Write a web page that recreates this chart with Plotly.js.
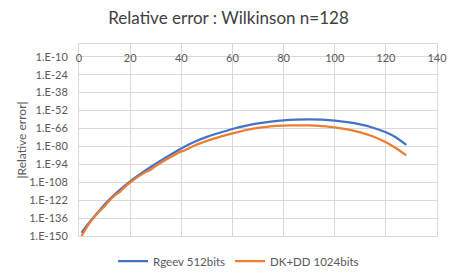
<!DOCTYPE html>
<html>
<head>
<meta charset="utf-8">
<script src="https://cdn.plot.ly/plotly-3.0.1.min.js"></script>
<style>html,body{margin:0;padding:0;background:#fff;}#chart{width:457px;height:277px;}</style>
</head>
<body>
<div id="chart"></div>
<script>
// log10 of |relative error|
const rgeevX = [1, 3, 5, 8, 11, 14, 17, 20, 25, 30, 35, 40, 45, 50, 55, 60, 65, 70, 75, 80, 85, 90, 95, 100, 105, 110, 115, 120, 124, 128];
const rgeevExp = [-147.5, -142, -137, -130, -123.3, -117.5, -112.2, -107.3, -100.2, -93.6, -87.4, -81.6, -76.6, -72.6, -69.3, -66.4, -64, -62, -60.6, -59.6, -59.05, -58.85, -59.1, -59.8, -61.0, -62.8, -65.4, -69.0, -73.0, -78.8];
const dkX = [1, 3, 5, 8, 10, 11, 14, 16, 17, 20, 25, 28, 30, 35, 40, 41, 45, 50, 55, 60, 65, 70, 75, 80, 85, 90, 95, 100, 105, 110, 115, 120, 124, 128];
const dkExp = [-150, -143.3, -137.6, -130.6, -126.8, -124.3, -118.3, -115.6, -113.4, -108.2, -101.3, -98.2, -95.3, -89.2, -83.9, -83.4, -79.5, -75.7, -72.5, -69.8, -67.4, -65.5, -64.3, -63.7, -63.5, -63.6, -64.2, -65.1, -66.7, -69.0, -72.3, -76.8, -81.5, -87];
const seriesNames = ["Rgeev 512bits", "DK+DD 1024bits"];
const yTickExp = [-150, -136, -122, -108, -94, -80, -66, -52, -38, -24, -10];
const yTickText = yTickExp.map(e => "1.E" + e);
const xTicks = [0, 20, 40, 60, 80, 100, 120, 140];

const toVal = a => a.map(e => Math.pow(10, e));
const FONT = "Lato, 'Open Sans', sans-serif";
const GRID = "#d9d9d9";

const traces = [
  {x: rgeevX, y: toVal(rgeevExp), name: seriesNames[0], type: "scatter", mode: "lines",
   line: {color: "#4472C4", width: 2.25, shape: "spline", smoothing: 0.6}},
  {x: dkX, y: toVal(dkExp), name: seriesNames[1], type: "scatter", mode: "lines",
   line: {color: "#ED7D31", width: 2.25, shape: "spline", smoothing: 0.4}},
  // helper carrying the top tick-label axis (no visible marks)
  {x: [xTicks[0], xTicks[xTicks.length - 1]], y: [null, null], xaxis: "x2", yaxis: "y",
   type: "scatter", mode: "lines", showlegend: false, hoverinfo: "skip"}
];

const layout = {
  width: 457, height: 277,
  margin: {l: 79, r: 20, t: 44, b: 41, autoexpand: false},
  paper_bgcolor: "#fff", plot_bgcolor: "#fff",
  font: {family: FONT, size: 11, color: "#595959"},
  title: {text: "Relative error : Wilkinson n=128", x: 0.5, xanchor: "center",
          y: 1 - 18/277, yref: "container", yanchor: "middle",
          font: {family: FONT, size: 17, color: "#404040"}},
  xaxis: {range: [0, 140], tickvals: xTicks, showticklabels: false,
          showgrid: true, gridcolor: GRID, gridwidth: 1, zeroline: false,
          showline: true, mirror: true, linecolor: GRID, linewidth: 1, ticks: ""},
  xaxis2: {range: [0, 140], tickvals: xTicks, overlaying: "x", anchor: "free", position: 0.895,
           side: "top", showgrid: false, zeroline: false, showline: false, ticks: "",
           tickfont: {size: 11, color: "#595959"}},
  yaxis: {type: "log", range: [-150, 0], tickvals: toVal(yTickExp), ticktext: yTickText,
          showgrid: true, gridcolor: GRID, gridwidth: 1, zeroline: false,
          showline: true, mirror: true, linecolor: GRID, linewidth: 1,
          ticks: "outside", ticklen: 8, tickcolor: "rgba(0,0,0,0)",
          tickfont: {size: 11, color: "#595959"},
          title: {text: "|Relative error|", standoff: 0, font: {size: 12, color: "#595959"}}},
  showlegend: true,
  legend: {orientation: "h", xref: "container", x: 0.522, xanchor: "center",
           y: -25/192, yanchor: "middle",
           font: {size: 11.5, color: "#595959"}, bgcolor: "rgba(0,0,0,0)"}
};

Plotly.newPlot("chart", traces, layout, {displayModeBar: false, staticPlot: true});
</script>
</body>
</html>
